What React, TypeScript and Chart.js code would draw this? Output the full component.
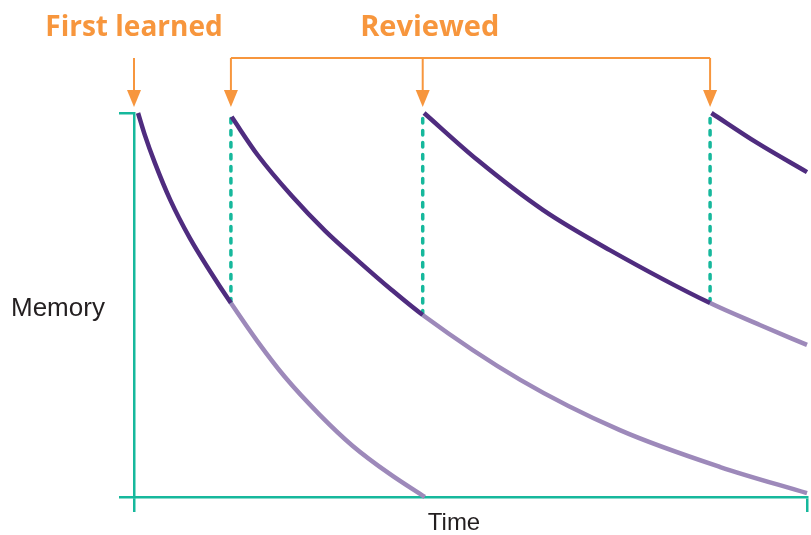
import React, { useEffect, useRef } from "react";
import { Chart, registerables } from "chart.js";

Chart.register(...registerables);

// Time axis in arbitrary units (0..10), memory 0..100
const timeRange = [0, 10];
const memoryRange = [0, 100];

const firstCurve: [number, number][] = [
  [0.06, 100], [0.16, 94.3], [0.31, 87], [0.54, 77.3], [0.83, 67.4], [1.13, 58.8], [1.44, 50.5],
  [1.84, 40.4], [2.24, 31.3], [2.76, 21.4], [3.25, 13.3], [3.8, 6], [4.32, 0],
];
const secondCurve: [number, number][] = [
  [1.45, 99], [1.84, 89], [2.35, 78.3], [2.84, 69.3], [3.33, 61.5], [3.83, 53.9], [4.29, 47.4],
  [5.74, 30.5], [7.22, 17.4], [8.71, 7.8], [10, 1],
];
const thirdCurve: [number, number][] = [
  [4.31, 100], [5.1, 87.8], [6.08, 74.7], [7.07, 64.3], [8.56, 50.5], [9.3, 44.8], [10, 39.6],
];
const fourthCurve: [number, number][] = [
  [8.58, 100], [9.26, 92.2], [10, 84.6],
];

const learnedTime = 0;
const reviewTimes = [1.44, 4.29, 8.56];
const reviewFromMemory = [50.5, 47.4, 50.5];

const titleLearned = "First learned";
const titleReviewed = "Reviewed";
const axisY = "Memory";
const axisX = "Time";

const DARK = "#4f2c7f";
const LIGHT = "#9d89ba";
const TEAL = "#16b89c";
const ORANGE = "#f7963d";
const TEXT = "#231f20";

export default function App() {
  const ref = useRef<HTMLCanvasElement | null>(null);

  useEffect(() => {
    if (!ref.current) return;

    const curve = (pts: [number, number][], darkUntil: number) => ({
      type: "line" as const,
      data: pts.map(([x, y]) => ({ x, y })),
      showLine: true,
      pointRadius: 0,
      borderWidth: 4.5,
      borderColor: DARK,
      cubicInterpolationMode: "monotone" as const,
      clip: false as any,
      segment: {
        borderColor: (c: any) => (c.p0.parsed.x >= darkUntil - 1e-6 ? LIGHT : DARK),
      },
      order: 1,
    });

    const dashed = reviewTimes.map((t, i) => ({
      type: "line" as const,
      data: [{ x: t, y: reviewFromMemory[i] }, { x: t, y: memoryRange[1] }],
      showLine: true,
      pointRadius: 0,
      borderWidth: 3.5,
      borderColor: TEAL,
      borderDash: [4.5, 7.5],
      borderCapStyle: "round" as const,
      clip: false as any,
      order: 2,
    }));

    const annotations = {
      id: "annotations",
      afterDraw(chart: any) {
        const { ctx, scales, chartArea } = chart;
        const xs = scales.x;
        ctx.save();
        ctx.strokeStyle = ORANGE;
        ctx.fillStyle = ORANGE;
        ctx.lineWidth = 2;
        const tipY = chartArea.top - 6;
        const barY = chartArea.top - 55;
        const arrow = (x: number) => {
          ctx.beginPath();
          ctx.moveTo(x, barY);
          ctx.lineTo(x, tipY - 14);
          ctx.stroke();
          ctx.beginPath();
          ctx.moveTo(x - 7, tipY - 17);
          ctx.lineTo(x + 7, tipY - 17);
          ctx.lineTo(x, tipY);
          ctx.closePath();
          ctx.fill();
        };
        const xl = xs.getPixelForValue(learnedTime);
        arrow(xl);
        const rx = reviewTimes.map((t) => xs.getPixelForValue(t));
        ctx.beginPath();
        ctx.moveTo(rx[0], barY);
        ctx.lineTo(rx[rx.length - 1], barY);
        ctx.stroke();
        rx.forEach(arrow);

        ctx.textAlign = "center";
        ctx.textBaseline = "alphabetic";
        ctx.font = "bold 28px 'Open Sans'";
        ctx.fillText(titleLearned, xl, chartArea.top - 77);
        ctx.font = "bold 29px 'Open Sans'";
        ctx.fillText(titleReviewed, rx[1] + 7, chartArea.top - 77);

        ctx.fillStyle = TEXT;
        ctx.font = "26px 'Liberation Sans'";
        ctx.textAlign = "left";
        ctx.fillText(axisY, 11, (chartArea.top + chartArea.bottom) / 2 + 11);
        ctx.font = "24px 'Liberation Sans'";
        ctx.textAlign = "center";
        ctx.fillText(axisX, 454, chartArea.bottom + 33);
        ctx.restore();
      },
    };

    const chart = new Chart(ref.current, {
      type: "scatter",
      data: {
        datasets: [
          curve(firstCurve, reviewTimes[0]),
          curve(secondCurve, reviewTimes[1]),
          curve(thirdCurve, reviewTimes[2]),
          curve(fourthCurve, 99),
          ...dashed,
        ] as any,
      },
      options: {
        animation: false,
        responsive: false,
        events: [],
        layout: { padding: { left: 0, right: 4, top: 113, bottom: 0 } },
        plugins: { legend: { display: false }, tooltip: { enabled: false } },
        scales: {
          x: {
            type: "linear",
            min: timeRange[0],
            max: timeRange[1],
            ticks: { display: false },
            afterBuildTicks: (s: any) => {
              s.ticks = [{ value: timeRange[0] }, { value: timeRange[1] }];
            },
            afterFit: (s: any) => {
              s.height = 38;
            },
            grid: { drawOnChartArea: false, tickLength: 15, color: TEAL, lineWidth: 2.5 },
            border: { display: true, color: TEAL, width: 2.5 },
          },
          y: {
            type: "linear",
            min: memoryRange[0],
            max: memoryRange[1],
            ticks: { display: false },
            afterBuildTicks: (s: any) => {
              s.ticks = [{ value: memoryRange[0] }, { value: memoryRange[1] }];
            },
            afterFit: (s: any) => {
              s.width = 134;
            },
            grid: { drawOnChartArea: false, tickLength: 15, color: TEAL, lineWidth: 2.5 },
            border: { display: true, color: TEAL, width: 2.5 },
          },
        },
      },
      plugins: [annotations],
    });

    return () => chart.destroy();
  }, []);

  return (
    <div style={{ position: "absolute", left: 0, top: 0, width: 811, height: 535, background: "#fff" }}>
      <canvas ref={ref} width={811} height={535} style={{ width: 811, height: 535 }} />
    </div>
  );
}
